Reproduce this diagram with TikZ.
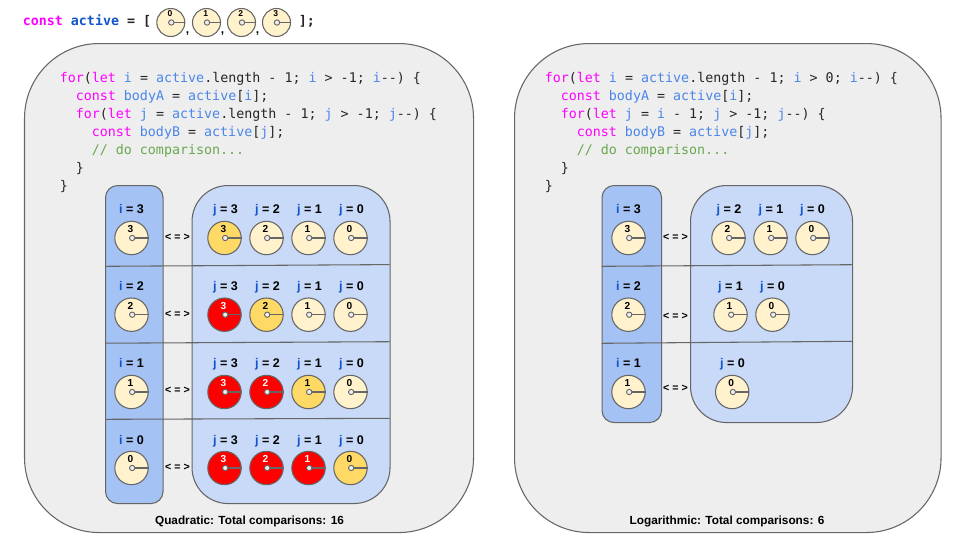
\documentclass[tikz,border=0pt]{standalone}
\usepackage{fontspec}
\setmainfont{Liberation Sans}
\setmonofont{DejaVu Sans Mono}
\definecolor{edge}{HTML}{666666}
\definecolor{panelfill}{HTML}{EEEEEE}
\definecolor{icol}{HTML}{A4C2F4}
\definecolor{jcol}{HTML}{C9DAF8}
\definecolor{cream}{HTML}{FFF2CC}
\definecolor{gold}{HTML}{FFD966}
\definecolor{hot}{HTML}{FF0000}
\definecolor{kw}{HTML}{FF00FF}
\definecolor{vr}{HTML}{4A86E8}
\definecolor{cm}{HTML}{6AA84F}
\definecolor{dk}{HTML}{1155CC}
\newcommand{\K}[1]{\textcolor{kw}{#1}}
\newcommand{\V}[1]{\textcolor{vr}{#1}}
\newcommand{\C}[1]{\textcolor{cm}{#1}}
\tikzset{
  x=0.75pt,y=-0.75pt,
  box/.style={draw=edge,line width=0.8pt,inner sep=0pt,anchor=north west},
  panel/.style={box,fill=panelfill,rounded corners=56pt},
  ibox/.style={box,fill=icol,rounded corners=9pt},
  jbox/.style={box,fill=jcol,rounded corners=27pt},
  sep/.style={draw=edge,line width=0.8pt},
  code/.style={inner sep=0pt,anchor=base west,font=\ttfamily\fontsize{10}{12}\selectfont,text=black!85},
  head/.style={code,font=\ttfamily\bfseries\fontsize{10}{12}\selectfont},
  lab/.style={inner sep=0pt,anchor=base,font=\bfseries\fontsize{9.4}{11}\selectfont},
  cmp/.style={inner sep=0pt,font=\bfseries\fontsize{8}{9}\selectfont},
  total/.style={inner sep=0pt,anchor=base,font=\bfseries\fontsize{8.85}{10}\selectfont},
  disc/.style={circle,draw=edge,line width=0.8pt,inner sep=0pt,minimum size=33.4*0.75pt},
  smalldisc/.style={disc,minimum size=28*0.75pt},
  hub/.style={circle,draw=edge,line width=0.7pt,fill=panelfill,inner sep=0pt,minimum size=4pt},
  hand/.style={draw=edge,line width=1pt},
  dig/.style={inner sep=0pt,anchor=base,font=\bfseries\fontsize{7.6}{8}\selectfont},
  smalldig/.style={dig,font=\bfseries\fontsize{6.4}{7}\selectfont},
}
% name, x, y, digit, fill, digit colour
\newcommand{\clk}[6]{%
  \node[disc,fill=#5] (#1) at (#2,#3) {};
  \draw[hand] (#2+0.7,#3) -- (#1.east);
  \node[hub] (#1h) at (#2+0.7,#3) {};
  \node[dig,text=#6] (#1d) at (#2-1,#3-5.5) {#4};
}
\newcommand{\sclk}[3]{%
  \node[smalldisc,fill=cream] (#1) at (#2,22.5) {};
  \draw[hand] (#2+0.5,22.5) -- (#1.east);
  \node[hub] (#1h) at (#2+0.5,22.5) {};
  \node[smalldig] (#1d) at (#2-0.7,16.5) {#3};
}
\newcommand{\ilab}[4]{\node[lab] (#1) at (#2,#3) {\textcolor{dk}{i} = #4};}
\newcommand{\jlab}[4]{\node[lab] (#1) at (#2,#3) {\textcolor{dk}{j} = #4};}
\begin{document}
\begin{tikzpicture}
\useasboundingbox (0.5,0) rectangle (960.5,540);
% header
\node[head] (hd) at (23,25) {\textcolor{kw}{const} \textcolor{dk}{active} = [};
\sclk{t0}{171.3}{0}\sclk{t1}{207}{1}\sclk{t2}{242}{2}\sclk{t3}{277}{3}
\node[lab,font=\bfseries\fontsize{9}{11}\selectfont] (cm1) at (188,33) {,};
\node[lab,font=\bfseries\fontsize{9}{11}\selectfont] (cm2) at (223,33) {,};
\node[lab,font=\bfseries\fontsize{9}{11}\selectfont] (cm3) at (258,33) {,};
\node[head] (tl) at (299,25) {];};
% panels
\node[panel,minimum width=449*0.75pt,minimum height=489*0.75pt] (pL) at (24.5,43) {};
\node[panel,minimum width=426.5*0.75pt,minimum height=489*0.75pt] (pR) at (514.5,43) {};
% left code
\node[code] (l1) at (60,82) {\K{for}(\K{let} \V{i} = \V{active}.length - 1; \V{i} > -1; \V{i}--) \{};
\node[code] (l2) at (76,100) {\K{const} \V{bodyA} = \V{active}[\V{i}];};
\node[code] (l3) at (76,118) {\K{for}(\K{let} \V{j} = \V{active}.length - 1; \V{j} > -1; \V{j}--) \{};
\node[code] (l4) at (92,136) {\K{const} \V{bodyB} = \V{active}[\V{j}];};
\node[code] (l5) at (92,154) {\C{// do comparison...}};
\node[code] (l6) at (76,172) {\}};
\node[code] (l7) at (60,190) {\}};
% right code
\node[code] (r1) at (545,82) {\K{for}(\K{let} \V{i} = \V{active}.length - 1; \V{i} > 0; \V{i}--) \{};
\node[code] (r2) at (561,100) {\K{const} \V{bodyA} = \V{active}[\V{i}];};
\node[code] (r3) at (561,118) {\K{for}(\K{let} \V{j} = \V{i} - 1; \V{j} > -1; \V{j}--) \{};
\node[code] (r4) at (577,136) {\K{const} \V{bodyB} = \V{active}[\V{j}];};
\node[code] (r5) at (577,154) {\C{// do comparison...}};
\node[code] (r6) at (561,172) {\}};
\node[code] (r7) at (545,190) {\}};
% left boxes
\node[ibox,minimum width=57.5*0.75pt,minimum height=318*0.75pt] (iL) at (105.5,185) {};
\node[jbox,minimum width=198*0.75pt,minimum height=318*0.75pt] (jL) at (192,185) {};
\coordinate (La1) at (105.5,266.3); \coordinate (Lb1) at (390,264.6);
\coordinate (La2) at (105.5,343.2); \coordinate (Lb2) at (390,341.7);
\coordinate (La3) at (105.5,419.3); \coordinate (Lb3) at (390,418.3);
\draw[sep] (La1) -- (Lb1);
\draw[sep] (La2) -- (Lb2);
\draw[sep] (La3) -- (Lb3);
% left rows
\ilab{Li3}{132}{213}{3}\ilab{Li2}{132}{290}{2}\ilab{Li1}{132}{367}{1}\ilab{Li0}{132}{444}{0}
\clk{Lc3}{132}{238}{3}{cream}{black}
\clk{Lc2}{132}{314.7}{2}{cream}{black}
\clk{Lc1}{132}{392}{1}{cream}{black}
\clk{Lc0}{132}{468}{0}{cream}{black}
\node[cmp] (Le3) at (178,237) {< = >};
\node[cmp] (Le2) at (178,314) {< = >};
\node[cmp] (Le1) at (178,390) {< = >};
\node[cmp] (Le0) at (178,467) {< = >};
% row 1
\jlab{La3j}{226}{213}{3}\jlab{La2j}{268}{213}{2}\jlab{La1j}{310}{213}{1}\jlab{La0j}{352}{213}{0}
\clk{Ld33}{225}{238}{3}{gold}{black}
\clk{Ld32}{267}{238}{2}{cream}{black}
\clk{Ld31}{309}{238}{1}{cream}{black}
\clk{Ld30}{351}{238}{0}{cream}{black}
% row 2
\jlab{Lb3j}{226}{290}{3}\jlab{Lb2j}{268}{290}{2}\jlab{Lb1j}{310}{290}{1}\jlab{Lb0j}{352}{290}{0}
\clk{Ld23}{225}{314.7}{3}{hot}{white}
\clk{Ld22}{267}{314.7}{2}{gold}{black}
\clk{Ld21}{309}{314.7}{1}{cream}{black}
\clk{Ld20}{351}{314.7}{0}{cream}{black}
% row 3
\jlab{Lc3j}{226}{367}{3}\jlab{Lc2j}{268}{367}{2}\jlab{Lc1j}{310}{367}{1}\jlab{Lc0j}{352}{367}{0}
\clk{Ld13}{225}{392}{3}{hot}{white}
\clk{Ld12}{267}{392}{2}{hot}{white}
\clk{Ld11}{309}{392}{1}{gold}{black}
\clk{Ld10}{351}{392}{0}{cream}{black}
% row 4
\jlab{Ld3j}{226}{444}{3}\jlab{Ld2j}{268}{444}{2}\jlab{Ld1j}{310}{444}{1}\jlab{Ld0j}{352}{444}{0}
\clk{Ld03}{225}{468}{3}{hot}{white}
\clk{Ld02}{267}{468}{2}{hot}{white}
\clk{Ld01}{309}{468}{1}{hot}{white}
\clk{Ld00}{351}{468}{0}{gold}{black}
\node[total] (Lt) at (250,524) {Quadratic: Total comparisons: 16};
% right boxes
\node[ibox,minimum width=59.5*0.75pt,minimum height=237*0.75pt] (iR) at (602,185) {};
\node[jbox,minimum width=162*0.75pt,minimum height=237*0.75pt] (jR) at (690.5,185) {};
\coordinate (Ra1) at (602,266.3); \coordinate (Rb1) at (852.5,264.7);
\coordinate (Ra2) at (602,343.3); \coordinate (Rb2) at (852.5,341.3);
\draw[sep] (Ra1) -- (Rb1);
\draw[sep] (Ra2) -- (Rb2);
\ilab{Ri3}{629}{213}{3}\ilab{Ri2}{629}{290}{2}\ilab{Ri1}{629}{367}{1}
\clk{Rc3}{629}{238}{3}{cream}{black}
\clk{Rc2}{629}{314.7}{2}{cream}{black}
\clk{Rc1}{629}{392}{1}{cream}{black}
\node[cmp] (Re3) at (676,237) {< = >};
\node[cmp] (Re2) at (676,316.5) {< = >};
\node[cmp] (Re1) at (676,388.5) {< = >};
\jlab{Ra2j}{729.5}{213}{2}\jlab{Ra1j}{771.5}{213}{1}\jlab{Ra0j}{813}{213}{0}
\clk{Rd22}{729}{238}{2}{cream}{black}
\clk{Rd21}{771}{238}{1}{cream}{black}
\clk{Rd20}{813}{238}{0}{cream}{black}
\jlab{Rb1j}{731}{290}{1}\jlab{Rb0j}{773}{290}{0}
\clk{Rd11}{731}{314.7}{1}{cream}{black}
\clk{Rd10}{773}{314.7}{0}{cream}{black}
\jlab{Rc0j}{733}{367}{0}
\clk{Rd00}{732.7}{392}{0}{cream}{black}
\node[total] (Rt) at (727.5,524) {Logarithmic: Total comparisons: 6};
\end{tikzpicture}
\end{document}
